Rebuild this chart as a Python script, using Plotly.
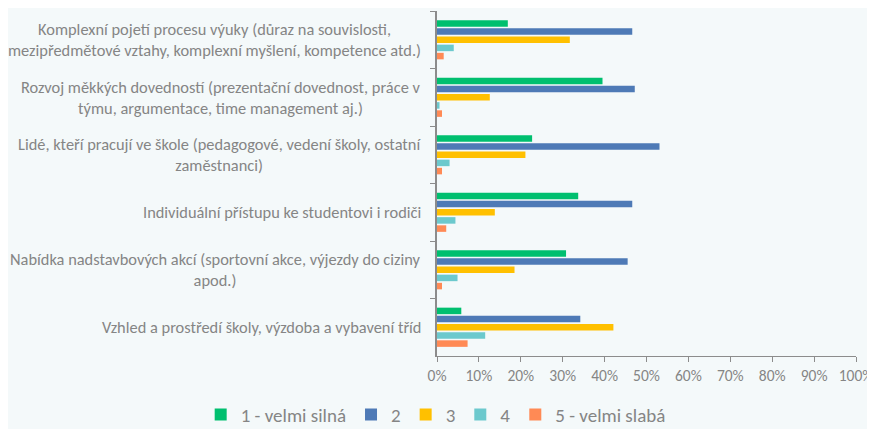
import plotly.graph_objects as go

categories = [
    "Komplexní pojetí procesu výuky (důraz na souvislosti,<br>mezipředmětové vztahy, komplexní myšlení, kompetence atd.)",
    "Rozvoj měkkých dovedností (prezentační dovednost, práce v<br>týmu, argumentace, time management aj.)",
    "Lidé, kteří pracují ve škole (pedagogové, vedení školy, ostatní<br>zaměstnanci)",
    "Individuální přístupu ke studentovi i rodiči",
    "Nabídka nadstavbových akcí (sportovní akce, výjezdy do ciziny<br>apod.)",
    "Vzhled a prostředí školy, výzdoba a vybavení tříd",
]
cat_ids = ["c1", "c2", "c3", "c4", "c5", "c6"]

series_names = ["1 - velmi silná", "2", "3", "4", "5 - velmi slabá"]
s1 = [0.169, 0.395, 0.227, 0.337, 0.308, 0.058]
s2 = [0.466, 0.472, 0.531, 0.466, 0.455, 0.342]
s3 = [0.317, 0.126, 0.211, 0.138, 0.185, 0.421]
s4 = [0.040, 0.006, 0.030, 0.044, 0.049, 0.115]
s5 = [0.016, 0.012, 0.012, 0.022, 0.012, 0.073]
series_values = [s1, s2, s3, s4, s5]
colors = ["#00BF6F", "#4E7AB6", "#FFC000", "#6CC9CD", "#FF8A55"]

x_tickvals = [i / 10 for i in range(11)]
x_ticktext = [f"{i*10}%" for i in range(11)]

FONT = "Carlito, Liberation Sans, Arial, sans-serif"
GRAY = "#858585"

fig = go.Figure()
for name, vals, col in zip(series_names, series_values, colors):
    fig.add_trace(go.Bar(
        y=cat_ids, x=vals, name=name, orientation="h",
        marker=dict(color=col, line=dict(width=0)),
    ))

for cid, label in zip(cat_ids, categories):
    fig.add_annotation(
        x=0, xref="paper", y=cid, yref="y", text=label,
        showarrow=False, xanchor="right", yanchor="middle", align="center",
        xshift=-14, font=dict(family=FONT, size=16.4, color=GRAY),
    )

fig.update_layout(
    width=875, height=429,
    margin=dict(l=429, r=27, t=3, b=71),
    paper_bgcolor="#F4F9FA", plot_bgcolor="#F4F9FA",
    barmode="group", bargap=0.29, bargroupgap=0.2,
    font=dict(family=FONT, size=15, color=GRAY),
    showlegend=True,
    legend=dict(
        orientation="h", xref="paper", yref="paper",
        x=-0.564, xanchor="left", y=-0.115, yanchor="top",
        font=dict(family=FONT, size=19, color=GRAY),
        itemwidth=30, traceorder="normal",
        bgcolor="rgba(0,0,0,0)",
    ),
    xaxis=dict(
        range=[0, 1], tickvals=x_tickvals, ticktext=x_ticktext,
        showgrid=False, zeroline=False, showline=True, linecolor="#8c8c8c",
        linewidth=1, ticks="outside", ticklen=5, tickcolor="#8c8c8c",
        tickfont=dict(family=FONT, size=15.5, color=GRAY),
    ),
    yaxis=dict(
        autorange="reversed", showticklabels=False, showgrid=False,
        showline=True, linecolor="#8c8c8c", linewidth=2,
        ticks="outside", tickson="boundaries", ticklen=5, tickcolor="#8c8c8c",
    ),
)

fig.write_html("out.html")
